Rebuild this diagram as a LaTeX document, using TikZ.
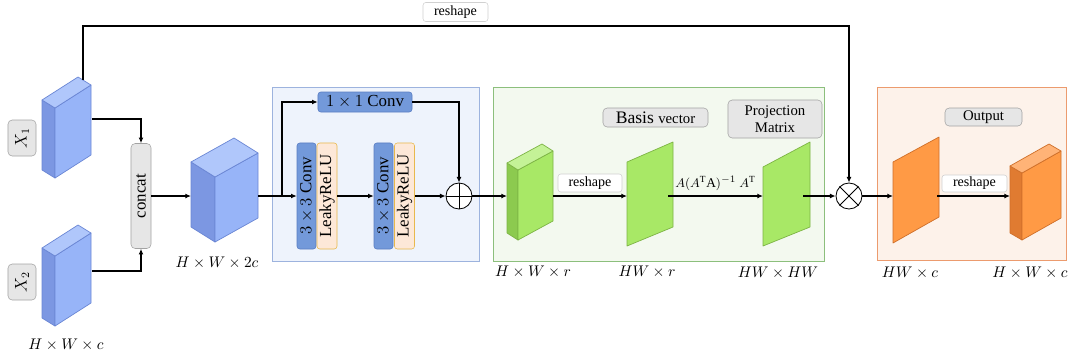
\documentclass[tikz,border=0pt]{standalone}
\usepackage{fontspec}
\setmainfont{Liberation Serif}
\usepackage{amsmath}
\usetikzlibrary{calc, positioning}
\usetikzlibrary{arrows.meta}

\definecolor{bluefront}{HTML}{97B4F8}
\definecolor{blueside}{HTML}{7C97E2}
\definecolor{bluetop}{HTML}{B0C7FB}
\definecolor{blueedge}{HTML}{6A86D4}
\definecolor{greenfront}{HTML}{A8E866}
\definecolor{greenside}{HTML}{8CCA4F}
\definecolor{greentop}{HTML}{C4F297}
\definecolor{greenedge}{HTML}{7DB445}
\definecolor{orangefront}{HTML}{FF9A45}
\definecolor{orangeside}{HTML}{E07B31}
\definecolor{orangetop}{HTML}{FFB377}
\definecolor{orangeedge}{HTML}{CF6F29}
\definecolor{tagfill}{HTML}{E6E6E6}
\definecolor{tagline}{HTML}{A3A3A3}
\definecolor{convfill}{HTML}{7399DA}
\definecolor{convline}{HTML}{5A7EC3}
\definecolor{relufill}{HTML}{FDE8D8}
\definecolor{reluline}{HTML}{E8B84C}
\definecolor{resfill}{HTML}{EEF3FC}
\definecolor{resline}{HTML}{9DB3DE}
\definecolor{projfill}{HTML}{F3F9EF}
\definecolor{projline}{HTML}{8CBF7C}
\definecolor{outfill}{HTML}{FDF2EA}
\definecolor{outline}{HTML}{EC9B6E}

\tikzset{
  conn/.style={line width=0.8pt, -{Latex[length=4pt,width=3.5pt]}},
  frame/.style={draw=#1line, fill=#1fill, inner sep=0pt, line width=0.6pt},
  tag/.style={draw=tagline, fill=tagfill, rounded corners=3pt, inner sep=0pt},
  note/.style={draw=black!18, fill=white, rounded corners=2pt, inner sep=0pt,
    font=\fontsize{10}{11}\selectfont},
  dims/.style={font=\fontsize{11}{12}\selectfont},
  face/.style={draw=#1edge, fill=#1front, line join=round, line width=0.5pt},
  convbox/.style={draw=convline, fill=convfill, rounded corners=2pt, inner sep=0pt,
    font=\fontsize{12}{13}\selectfont},
  relubox/.style={draw=reluline, fill=relufill, rounded corners=2pt, inner sep=0pt,
    rotate=90, minimum width=2.65cm, minimum height=0.5cm, font=\fontsize{12}{13}\selectfont},
  op/.style={circle, draw, fill=white, minimum size=0.65cm, inner sep=0pt, line width=0.6pt},
}

% #1 front edge x, #2 top y, #3 bottom y, #4 left depth, #5 right depth, #6 colour
\newcommand{\cuboid}[6]{%
  \filldraw[draw=#6edge, fill=#6side, line join=round, line width=0.5pt]
    (#1,#2) -- ++(#4) -- ++(0,{#3-#2}) -- (#1,#3) -- cycle;
  \filldraw[draw=#6edge, fill=#6front, line join=round, line width=0.5pt]
    (#1,#2) -- ++(#5) -- ++(0,{#3-#2}) -- (#1,#3) -- cycle;
  \filldraw[draw=#6edge, fill=#6top, line join=round, line width=0.5pt]
    (#1,#2) -- +(#4) -- +($(#4)+(#5)$) -- +(#5) -- cycle;
}

\begin{document}
\begin{tikzpicture}[x=0.025cm,y=-0.025cm]
\def\ym{196}
\useasboundingbox (0,0) rectangle (1070,358);

% module frames
\node[frame=res, minimum width=5.175cm, minimum height=4.35cm] (resblk) at (375.5,174) {};
\node[frame=proj, minimum width=8.275cm, minimum height=4.35cm] (projblk) at (658.5,174) {};
\node[frame=out, minimum width=4.725cm, minimum height=4.325cm] (outblk) at (971.5,173.5) {};

% feature maps
\cuboid{55}{108}{178}{-13,-8}{36,-23}{blue}
\cuboid{55}{256}{326}{-13,-8}{36,-23}{blue}
\cuboid{215}{177}{242}{-24,-15}{43,-24}{blue}
\cuboid{518}{170}{240}{-11,-7}{35,-19}{green}
\cuboid{1022}{173}{240}{-12,-7}{39,-22}{orange}
\filldraw[face=green] (627,162) -- (673,142) -- (673,227) -- (627,246) -- cycle;
\filldraw[face=green] (763,167) -- (810,142) -- (810,227) -- (763,246) -- cycle;
\filldraw[face=orange] (893,162) -- (939,137) -- (939,217) -- (893,243) -- cycle;

\coordinate (x1-top) at (83,80);
\coordinate (x1-out) at (92,119);
\coordinate (x2-out) at (92,271);
\coordinate (c2-in) at (191,\ym);
\coordinate (c2-out) at (258,\ym);
\coordinate (g1-in) at (507,\ym);
\coordinate (g1-out) at (553,\ym);
\coordinate (p1-in) at (627,\ym);
\coordinate (p1-out) at (668,\ym);
\coordinate (p2-in) at (763,\ym);
\coordinate (p2-out) at (803,\ym);
\coordinate (o1-in) at (893,\ym);
\coordinate (o1-out) at (937,\ym);
\coordinate (o2-in) at (1010,\ym);
\coordinate (split) at (282,\ym);
\coordinate (topline) at (849,26);

% tags
\node[tag, rotate=90, minimum width=0.9cm, minimum height=0.7cm, font=\fontsize{12}{13}\selectfont] (x1) at (22,138) {$X_1$};
\node[tag, rotate=90, minimum width=0.9cm, minimum height=0.7cm, font=\fontsize{12}{13}\selectfont] (x2) at (22,282) {$X_2$};
\node[tag, rotate=90, minimum width=2.625cm, minimum height=0.5cm, font=\fontsize{12}{13}\selectfont] (concat) at (141,\ym) {concat};
\node[tag, minimum width=2.625cm, minimum height=0.475cm] (basis) at (655.5,117.5)
  {\fontsize{12.5}{13}\selectfont Basis \fontsize{10.5}{11}\selectfont vector};
\node[tag, minimum width=2.35cm, minimum height=0.95cm, align=center, font=\fontsize{10.5}{12}\selectfont] (proj) at (775,119) {Projection\\Matrix};
\node[tag, minimum width=1.925cm, minimum height=0.45cm, font=\fontsize{10.5}{11}\selectfont] (output) at (983.5,117) {Output};
\node[note, minimum width=1.625cm, minimum height=0.475cm] (rs0) at (455.5,12) {reshape};
\node[note, minimum width=1.6cm, minimum height=0.45cm] (rs1) at (590,183) {reshape};
\node[note, minimum width=1.625cm, minimum height=0.425cm] (rs2) at (974.5,183.5) {reshape};

% residual block
\node[convbox, minimum width=2.35cm, minimum height=0.5cm] (conv11) at (365,102) {$1\times1$ Conv};
\node[convbox, rotate=90, minimum width=2.65cm, minimum height=0.475cm] (conv3a) at (306.5,\ym) {$3\times3$ Conv};
\node[relubox] (relua) at (327,\ym) {LeakyReLU};
\node[convbox, rotate=90, minimum width=2.65cm, minimum height=0.475cm] (conv3b) at (383.5,\ym) {$3\times3$ Conv};
\node[relubox] (relub) at (404.5,\ym) {LeakyReLU};
\node[op] (plus) at (459,\ym) {};
\draw[line width=0.6pt] (plus.north) -- (plus.south) (plus.east) -- (plus.west);
\node[op] (mul) at (849,\ym) {};
\draw[line width=0.6pt] (mul.north east) -- (mul.south west) (mul.north west) -- (mul.south east);

% sizes
\node[dims] (d-x2) at (66,345) {$H\times W\times c$};
\node[dims] (d-c2) at (217,263) {$H\times W\times 2c$};
\node[dims] (d-g1) at (533,272) {$H\times W\times r$};
\node[dims] (d-p1) at (647,272) {$HW\times r$};
\node[dims] (d-p2) at (778,273) {$HW\times HW$};
\node[dims] (d-o1) at (910,273) {$HW\times c$};
\node[dims] (d-o2) at (1030,273) {$H\times W\times c$};

% connections
\draw[conn] (x1-top) |- (topline) -- (mul);
\draw[conn] (x1-out) -| (concat);
\draw[conn] (x2-out) -| (concat);
\draw[conn] (concat) -- (c2-in);
\draw[conn] (c2-out) -- (conv3a);
\draw[conn] (split) |- (conv11);
\draw[conn] (conv11) -| (plus);
\draw[conn] (relua) -- (conv3b);
\draw[conn] (relub) -- (plus);
\draw[conn] (plus) -- (g1-in);
\draw[conn] (g1-out) -- (p1-in);
\draw[conn] (p1-out) -- (p2-in) node[midway, above=0pt, font=\fontsize{9.5}{10}\selectfont]
  {$A(A^{\mathrm{T}}\mathrm{A})^{-1}\ A^{\mathrm{T}}$};
\draw[conn] (p2-out) -- (mul);
\draw[conn] (mul) -- (o1-in);
\draw[conn] (o1-out) -- (o2-in);
\end{tikzpicture}
\end{document}
